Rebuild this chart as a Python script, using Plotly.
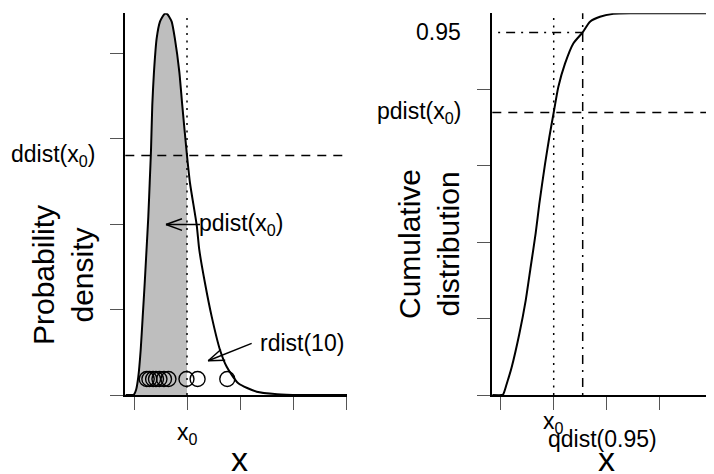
import math
import plotly.graph_objects as go

# ---------------- data ----------------
dens_x = [-0.16, -0.05, 0.0, 0.038, 0.081, 0.126, 0.164, 0.202, 0.236, 0.270, 0.296,
          0.321, 0.345, 0.377, 0.428, 0.49, 0.54, 0.57, 0.598, 0.63, 0.66, 0.711,
          0.77, 0.855, 0.91, 1.0, 1.057, 1.183, 1.232, 1.34, 1.466, 1.623, 1.749,
          1.968, 2.315, 2.7, 3.13, 4.03]
dens_y = [0.0, 0.0, 0.002, 0.0175, 0.064, 0.158, 0.274, 0.393, 0.509, 0.626, 0.744,
          0.86, 1.018, 1.134, 1.252, 1.31, 1.328, 1.336, 1.339, 1.336, 1.328, 1.31,
          1.252, 1.134, 1.018, 0.84, 0.743, 0.596, 0.509, 0.392, 0.275, 0.158, 0.099,
          0.041, 0.0116, 0.003, 0.0, 0.0]

cdf_x = [-0.16, 0.02, 0.05, 0.113, 0.207, 0.351, 0.472, 0.566, 0.66, 0.728, 0.836,
         0.918, 1.0, 1.087, 1.213, 1.37, 1.547, 1.685, 1.873, 2.125, 2.5, 4.03]
cdf_y = [0.0, 0.0, 0.0026, 0.029, 0.073, 0.16, 0.248, 0.336, 0.424, 0.5, 0.605,
         0.676, 0.74, 0.807, 0.868, 0.921, 0.95, 0.978, 0.991, 0.9985, 1.0, 1.0]

sample_x = [0.24, 0.29, 0.36, 0.415, 0.48, 0.566, 0.65, 0.99, 1.20, 1.76]
sample_level = 0.056

x0 = 1.0
ddist_x0 = 0.84
pdist_x0 = 0.74
q_level = 0.95
qdist_q = 1.547

x_ticks = [0, 1, 2, 3, 4]
dens_yticks = [0, 0.3, 0.6, 0.9, 1.2]
cdf_yticks = [0, 0.2, 0.4, 0.6, 0.8]

arrow_pdist_head = (0.604, 0.598)
arrow_pdist_tail = (1.245, 0.598)
arrow_rdist_head = (1.40, 0.12)
arrow_rdist_tail = (2.22, 0.181)

# ---------------- layout geometry ----------------
# the page body has an 8px margin, so the figure starts at (8, 8) in the window
OFF = 8
W, H = 714 - OFF, 474 - OFF
FONT = "Liberation Sans, Arial, sans-serif"


def PX(p):
    return (p - OFF) / W


def PY(p):
    return 1 - (p - OFF) / H


L_dom = [PX(125.3), PX(347.0)]
R_dom = [PX(492.3), 1.0]
Y_dom = [PY(395.0), PY(13.3)]
xr1 = [-0.1642, 4.0189]
yr1 = [0, 1.3393]
xr2 = [-0.1585, 4.0245]
yr2 = [0, 1.0]

fig = go.Figure()

# shaded area up to x0
fx = [x for x in dens_x if x <= x0]
fy = [y for x, y in zip(dens_x, dens_y) if x <= x0]
fig.add_trace(go.Scatter(x=fx, y=fy, mode="lines", fill="tozeroy",
                         fillcolor="#BEBEBE",
                         line=dict(width=0, color="#BEBEBE", shape="spline", smoothing=0.6),
                         hoverinfo="skip", xaxis="x", yaxis="y"))
# density curve
fig.add_trace(go.Scatter(x=dens_x, y=dens_y, mode="lines",
                         line=dict(color="black", width=2, shape="spline", smoothing=0.6),
                         xaxis="x", yaxis="y"))
# random sample
fig.add_trace(go.Scatter(x=sample_x, y=[sample_level] * len(sample_x), mode="markers",
                         marker=dict(symbol="circle-open", size=15,
                                     line=dict(color="black", width=1.4), color="black"),
                         xaxis="x", yaxis="y"))
# cdf
fig.add_trace(go.Scatter(x=cdf_x, y=cdf_y, mode="lines",
                         line=dict(color="black", width=2, shape="spline", smoothing=0.6),
                         xaxis="x2", yaxis="y2"))


# arrows (R style open heads) drawn as line traces
def arrow_xy(head, tail, xd, xr, yd, yr, length=17, ang=20):
    sx = (xd[1] - xd[0]) * W / (xr[1] - xr[0])
    sy = (yd[1] - yd[0]) * H / (yr[1] - yr[0])
    dxp = (tail[0] - head[0]) * sx
    dyp = -(tail[1] - head[1]) * sy
    th = math.atan2(dyp, dxp)
    xs = [tail[0], head[0], None]
    ys = [tail[1], head[1], None]
    for s in (-1, 1):
        a = th + s * math.radians(ang)
        xs += [head[0] + length * math.cos(a) / sx, head[0], None]
        ys += [head[1] - length * math.sin(a) / sy, head[1], None]
    return xs, ys


for hd, tl in ((arrow_pdist_head, arrow_pdist_tail), (arrow_rdist_head, arrow_rdist_tail)):
    ax_, ay_ = arrow_xy(hd, tl, L_dom, xr1, Y_dom, yr1)
    fig.add_trace(go.Scatter(x=ax_, y=ay_, mode="lines", line=dict(color="black", width=1.5),
                             xaxis="x", yaxis="y", hoverinfo="skip"))

DASH = "9px,7px"
DOT = "2px,5.5px"
DASHDOT = "2px,6px,9px,6px"

shapes = [
    dict(type="line", xref="x", yref="y domain", x0=x0, x1=x0, y0=0, y1=1,
         line=dict(color="black", width=1.5, dash=DOT)),
    dict(type="line", xref="x domain", yref="y", x0=0, x1=1, y0=ddist_x0, y1=ddist_x0,
         line=dict(color="black", width=1.5, dash=DASH)),
    dict(type="line", xref="x2", yref="y2 domain", x0=x0, x1=x0, y0=0, y1=1,
         line=dict(color="black", width=1.5, dash=DOT)),
    dict(type="line", xref="x2 domain", yref="y2", x0=0, x1=1, y0=pdist_x0, y1=pdist_x0,
         line=dict(color="black", width=1.5, dash=DASH)),
    dict(type="line", xref="x2", yref="y2 domain", x0=qdist_q, x1=qdist_q, y0=0, y1=1,
         line=dict(color="black", width=1.5, dash=DASHDOT)),
    dict(type="line", xref="x2", yref="y2", x0=xr2[0] + 0.11, x1=qdist_q, y0=q_level, y1=q_level,
         line=dict(color="black", width=1.5, dash=DASHDOT)),
]

ann = []
TS = 23


def txt(text, x, y, xref, yref, xanchor="center", yanchor="middle", size=TS, angle=0, xshift=0):
    ann.append(dict(text=text, x=x, y=y, xref=xref, yref=yref, xanchor=xanchor,
                    yanchor=yanchor, showarrow=False, textangle=angle, xshift=xshift,
                    font=dict(family=FONT, size=size, color="black")))


# labels
txt("ddist(x<sub>0</sub>)", PX(97), ddist_x0, "paper", "y", xanchor="right")
txt("pdist(x<sub>0</sub>)", PX(463), pdist_x0, "paper", "y2", xanchor="right")
txt("0.95", PX(463), q_level, "paper", "y2", xanchor="right")
txt("x<sub>0</sub>", x0, PY(433), "x", "paper")
txt("x<sub>0</sub>", x0, PY(422), "x2", "paper")
txt("qdist(0.95)", qdist_q, PY(439), "x2", "paper", xshift=20)
txt("x", PX(239), PY(459), "paper", "paper", size=34)
txt("x", PX(606.7), PY(459), "paper", "paper", size=34)
txt("Probability<br>density", PX(63), PY(275), "paper", "paper", size=30, angle=-90)
txt("Cumulative<br>distribution", PX(428.5), PY(244.5), "paper", "paper", size=30, angle=-90)
txt("pdist(x<sub>0</sub>)", PX(197), arrow_pdist_tail[1], "paper", "y", xanchor="left")
txt("rdist(10)", PX(258), PY(342.5), "paper", "paper", xanchor="left")

axis_common = dict(showgrid=False, zeroline=False, showline=True, linecolor="black",
                   linewidth=2, ticks="outside", ticklen=13, tickwidth=1.2,
                   tickcolor="#555555", showticklabels=False, fixedrange=True)

fig.update_layout(
    width=W, height=H, margin=dict(l=0, r=0, t=0, b=0),
    paper_bgcolor="white", plot_bgcolor="white", showlegend=False,
    xaxis=dict(domain=L_dom, range=xr1, tickvals=x_ticks, anchor="y", **axis_common),
    yaxis=dict(domain=Y_dom, range=yr1, tickvals=dens_yticks, anchor="x", **axis_common),
    xaxis2=dict(domain=R_dom, range=xr2, tickvals=x_ticks, anchor="y2", **axis_common),
    yaxis2=dict(domain=Y_dom, range=yr2, tickvals=cdf_yticks, anchor="x2", **axis_common),
    shapes=shapes, annotations=ann,
)

fig.write_html("out.html")
